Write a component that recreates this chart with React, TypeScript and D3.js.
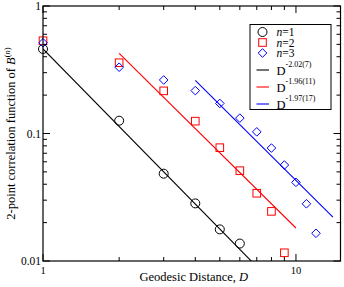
import React from 'react';
import * as d3 from 'd3';

// Geodesic distances and 2-point correlation values per n
const distN1 = [1, 2, 3, 4, 5, 6];
const corrN1 = [0.46, 0.126, 0.0484, 0.0283, 0.0177, 0.0137];

const distN2 = [1, 2, 3, 4, 5, 6, 7, 8, 9];
const corrN2 = [0.534, 0.359, 0.216, 0.125, 0.0774, 0.0511, 0.034, 0.0245, 0.0116];

const distN3 = [1, 2, 3, 4, 5, 6, 7, 8, 9, 10, 11, 12];
const corrN3 = [0.515, 0.331, 0.263, 0.217, 0.172, 0.132, 0.103, 0.0769, 0.0566, 0.0414, 0.0281, 0.0165];

// Power-law fits A * D^exponent
const fitExponents = [-2.02, -1.96, -1.97];
const fitErrors = ['7', '11', '17'];
const fitAmplitudes = [0.46, 1.655, 4.0];
const fitRanges: [number, number][] = [[1, 7], [2, 10], [4, 14]];

const COLORS = ['#000000', '#ff0000', '#0000ff'];

const W = 344;
const H = 287;
const margin = { top: 6, right: 3.5, bottom: 26, left: 43 };

const App: React.FC = () => {
    const x = d3.scaleLog().domain([1, 15]).range([margin.left, W - margin.right]);
    const y = d3.scaleLog().domain([0.01, 1]).range([H - margin.bottom, margin.top]);
    const [x0, x1] = x.range();
    const [y0, y1] = y.range();

    const xTicks = x.ticks();
    const yTicks = y.ticks();
    const isMajor = (v: number) => Math.abs(Math.log10(v) - Math.round(Math.log10(v))) < 1e-9;

    const fitPaths = fitExponents.map((ex, k) => {
        const [a, b] = fitRanges[k];
        const pts: [number, number][] = [a, b].map(d => [x(d), y(fitAmplitudes[k] * Math.pow(d, ex))]);
        return d3.line()(pts) || '';
    });

    const series = [
        { d: distN1, v: corrN1, shape: 'circle' },
        { d: distN2, v: corrN2, shape: 'square' },
        { d: distN3, v: corrN3, shape: 'diamond' },
    ];

    const marker = (shape: string, cx: number, cy: number, color: string, key: string) => {
        if (shape === 'circle') return <circle key={key} cx={cx} cy={cy} r={4.5} fill="none" stroke={color} strokeWidth={1} />;
        if (shape === 'square') return <rect key={key} x={cx - 3.8} y={cy - 3.8} width={7.6} height={7.6} fill="none" stroke={color} strokeWidth={1} />;
        return <path key={key} d={`M${cx},${cy - 4.3}L${cx + 4.3},${cy}L${cx},${cy + 4.3}L${cx - 4.3},${cy}Z`} fill="none" stroke={color} strokeWidth={1} />;
    };

    const font = '"Liberation Serif", "Times New Roman", serif';

    // legend layout
    const lgX = 250, lgY = 24.5, lgW = 81, lgH = 85;
    const symRows = [32, 42.5, 53];
    const lineRows = [70, 87, 104];

    return (
        <svg width={W} height={H} style={{ position: 'fixed', left: 0, top: 0, background: '#fff' }} fontFamily={font}>
            <defs>
                <clipPath id="plot-area">
                    <rect x={x0} y={y1} width={x1 - x0} height={y0 - y1} />
                </clipPath>
            </defs>

            {/* fit lines */}
            <g clipPath="url(#plot-area)">
                {fitPaths.map((p, k) => <path key={k} d={p} fill="none" stroke={COLORS[k]} strokeWidth={1.1} />)}
            </g>

            {/* data markers */}
            {series.map((s, k) => s.d.map((d, i) => marker(s.shape, x(d), y(s.v[i]), COLORS[k], `${k}-${i}`)))}

            {/* frame */}
            <rect x={x0} y={y1} width={x1 - x0} height={y0 - y1} fill="none" stroke="#000" strokeWidth={1.2} />

            {/* x ticks, bottom and top */}
            {xTicks.map(t => {
                const len = isMajor(t) ? 7 : 4;
                return (
                    <g key={`xt${t}`} stroke="#000" strokeWidth={1}>
                        <line x1={x(t)} x2={x(t)} y1={y0} y2={y0 - len} />
                        <line x1={x(t)} x2={x(t)} y1={y1} y2={y1 + len} />
                    </g>
                );
            })}
            {/* y ticks, left and right */}
            {yTicks.map(t => {
                const len = isMajor(t) ? 7 : 4;
                return (
                    <g key={`yt${t}`} stroke="#000" strokeWidth={1}>
                        <line x1={x0} x2={x0 + len} y1={y(t)} y2={y(t)} />
                        <line x1={x1} x2={x1 - len} y1={y(t)} y2={y(t)} />
                    </g>
                );
            })}

            {/* tick labels */}
            {yTicks.filter(isMajor).map(t => (
                <text key={`yl${t}`} x={x0 - 2} y={y(t)} dy="0.35em" textAnchor="end" fontSize={11.5}>{d3.format('~g')(t)}</text>
            ))}
            {xTicks.filter(isMajor).map(t => (
                <text key={`xl${t}`} x={x(t)} y={y0 + 13} textAnchor="middle" fontSize={10.5}>{t}</text>
            ))}

            {/* axis titles */}
            <text x={(x0 + x1) / 2 + 2} y={281} textAnchor="middle" fontSize={12.5}>
                Geodesic Distance, <tspan fontStyle="italic">D</tspan>
            </text>
            <text transform={`translate(15,${(y0 + y1) / 2}) rotate(-90)`} textAnchor="middle" fontSize={12.5}>
                2-point correlation function of <tspan fontStyle="italic">B</tspan>
                <tspan dy={-5} fontSize={8.5}>(<tspan fontStyle="italic">n</tspan>)</tspan>
            </text>

            {/* legend */}
            <rect x={lgX} y={lgY} width={lgW} height={lgH} fill="#fff" stroke="#000" strokeWidth={1} />
            {series.map((s, k) => (
                <g key={`lg${k}`}>
                    {marker(s.shape, 262.5, symRows[k], COLORS[k], `lm${k}`)}
                    <text x={276.5} y={symRows[k]} dy="0.35em" fontSize={11.5}>
                        <tspan fontStyle="italic">n</tspan>={k + 1}
                    </text>
                </g>
            ))}
            {fitExponents.map((ex, k) => (
                <g key={`lf${k}`}>
                    <line x1={256.5} x2={269} y1={lineRows[k]} y2={lineRows[k]} stroke={COLORS[k]} strokeWidth={1.1} />
                    <text x={276.5} y={lineRows[k] + 5} fontSize={12.5}>
                        D<tspan dy={-8.5} fontSize={8}>{`${ex.toFixed(2)}(${fitErrors[k]})`}</tspan>
                    </text>
                </g>
            ))}
        </svg>
    );
};

export default App;
